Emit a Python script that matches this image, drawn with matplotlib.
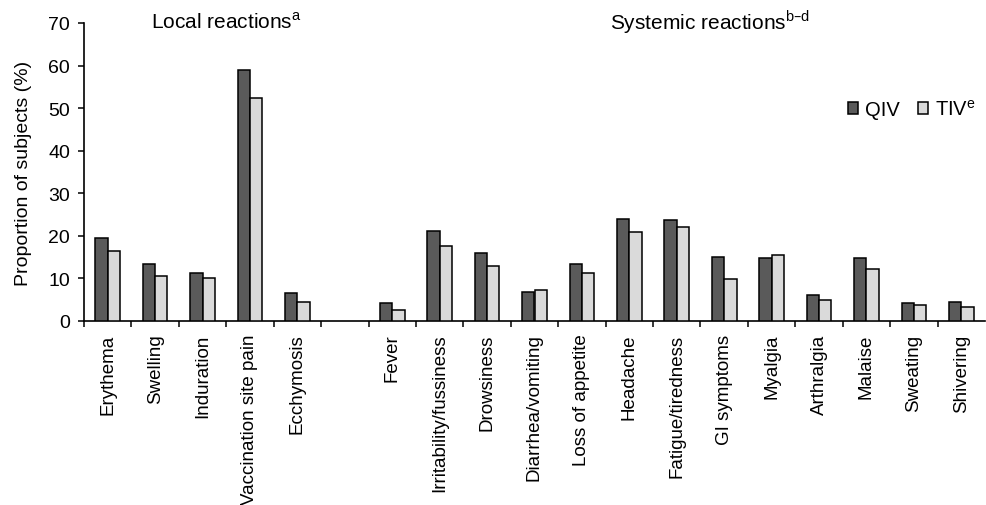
import matplotlib
matplotlib.use('Agg')
import matplotlib.pyplot as plt
import numpy as np

plt.rcParams['font.family'] = ['Liberation Sans', 'DejaVu Sans']
plt.rcParams['font.size'] = 14

# Data
local_names = ['Erythema', 'Swelling', 'Induration', 'Vaccination site pain', 'Ecchymosis']
local_qiv = [19.4, 13.5, 11.3, 59.0, 6.5]
local_tiv = [16.5, 10.6, 10.2, 52.5, 4.5]

systemic_names = ['Fever', 'Irritability/fussiness', 'Drowsiness', 'Diarrhea/vomiting',
                  'Loss of appetite', 'Headache', 'Fatigue/tiredness', 'GI symptoms',
                  'Myalgia', 'Arthralgia', 'Malaise', 'Sweating', 'Shivering']
systemic_qiv = [4.3, 21.1, 15.9, 6.9, 13.3, 23.9, 23.7, 15.0, 14.9, 6.1, 14.9, 4.2, 4.4]
systemic_tiv = [2.6, 17.7, 12.9, 7.3, 11.2, 20.9, 22.0, 9.8, 15.4, 4.9, 12.3, 3.7, 3.4]

qiv_color = '#5a5a5a'
tiv_color = '#dadada'

# one empty slot between the two groups
pos = np.array(list(range(len(local_names))) +
               list(range(len(local_names) + 1, len(local_names) + 1 + len(systemic_names))))
names = local_names + systemic_names
qiv = local_qiv + systemic_qiv
tiv = local_tiv + systemic_tiv
n_slots = len(local_names) + 1 + len(systemic_names)

fig = plt.figure(figsize=(9.86, 5.06), dpi=100)
ax = fig.add_axes([84 / 986, 1 - 322 / 506, 901 / 986, 298 / 506])

w = 0.26
ax.bar(pos - w / 2, qiv, width=w, color=qiv_color, edgecolor='black', linewidth=1.1,
       label='QIV', zorder=3)
ax.bar(pos + w / 2, tiv, width=w, color=tiv_color, edgecolor='black', linewidth=1.1,
       label='TIV$^\\mathregular{e}$', zorder=3)

ax.set_xlim(-0.5, n_slots - 0.5)
ax.set_ylim(0, 70)
ax.set_yticks(range(0, 71, 10))

ax.set_xticks(pos)
ax.set_xticklabels(names, rotation=90, va='top', ha='center')
ax.set_xticks(np.arange(-0.5, n_slots - 1, 1.0), minor=True)
ax.tick_params(axis='x', which='major', length=0, pad=9, labelsize=13.5)
ax.tick_params(axis='x', which='minor', length=4, width=1.1, direction='out')
ax.tick_params(axis='y', length=4, width=1.1, direction='out', pad=6, labelsize=14)

for side in ['top', 'right']:
    ax.spines[side].set_visible(False)
for side in ['left', 'bottom']:
    ax.spines[side].set_linewidth(1.2)

ax.set_ylabel('Proportion of subjects (%)', fontsize=14, labelpad=12)

ax.text(2.5, 70.4, 'Local reactions$^\\mathregular{a}$', ha='center', va='center', fontsize=15)
ax.text(12.7, 70.4, 'Systemic reactions$^\\mathregular{b\u2013d}$', ha='center', va='center',
        fontsize=15)

fig.legend(loc='center right', bbox_to_anchor=(0.998, 1 - 110 / 506), ncol=2, frameon=False,
           handlelength=0.5, handleheight=0.5, handletextpad=0.35, columnspacing=0.9,
           fontsize=14.5, borderaxespad=0)

fig.savefig('out.png', dpi=100)
